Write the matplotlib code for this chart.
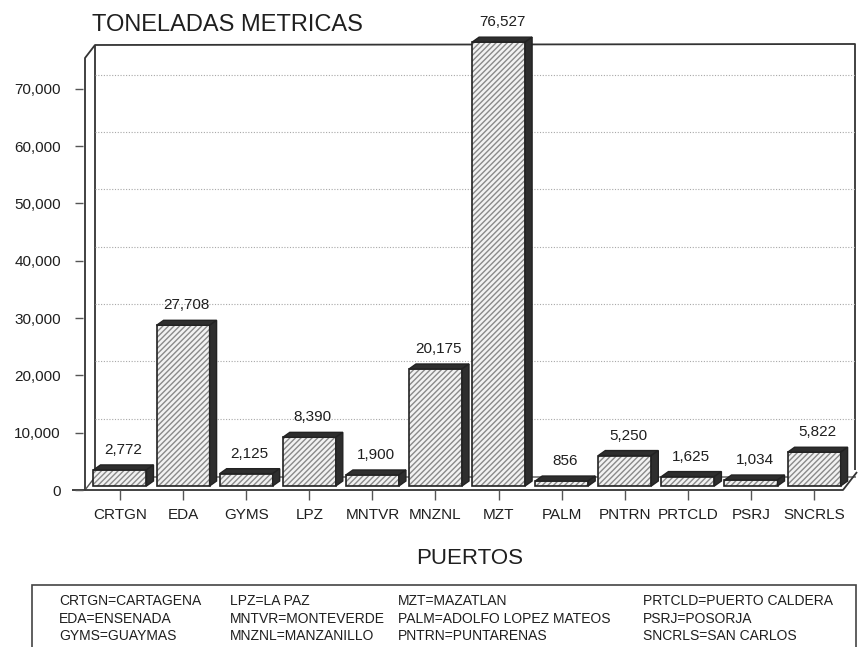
import matplotlib
matplotlib.use("Agg")
import matplotlib.pyplot as plt
from matplotlib.patches import Polygon, Rectangle
from matplotlib.lines import Line2D
from matplotlib.transforms import blended_transform_factory, ScaledTranslation

plt.rcParams['font.family'] = ['Liberation Sans', 'DejaVu Sans']

# ---------------- data ----------------
categories = ["CRTGN", "EDA", "GYMS", "LPZ", "MNTVR", "MNZNL", "MZT",
              "PALM", "PNTRN", "PRTCLD", "PSRJ", "SNCRLS"]
values = [2772, 27708, 2125, 8390, 1900, 20175, 76527,
          856, 5250, 1625, 1034, 5822]
yticks = [0, 10000, 20000, 30000, 40000, 50000, 60000, 70000]
title = "TONELADAS METRICAS"
xlabel = "PUERTOS"
legend_cols = [
    ["CRTGN=CARTAGENA", "EDA=ENSENADA", "GYMS=GUAYMAS"],
    ["LPZ=LA PAZ", "MNTVR=MONTEVERDE", "MNZNL=MANZANILLO"],
    ["MZT=MAZATLAN", "PALM=ADOLFO LOPEZ MATEOS", "PNTRN=PUNTARENAS"],
    ["PRTCLD=PUERTO CALDERA", "PSRJ=POSORJA", "SNCRLS=SAN CARLOS"],
]

# ---------------- style ----------------
W, H = 858, 647
INK = '#1f1f1f'
DARK = '#2e2e2e'

def fx(px):
    return px / W

def fy(py):
    return 1 - py / H

fig = plt.figure(figsize=(W / 100, H / 100), dpi=100)
fig.patch.set_facecolor('white')

rect = [fx(83), fy(490), (856 - 83) / W, (490 - 30) / H]

# back-wall axis (ticks + grid)
ax2 = fig.add_axes(rect)
ax2.set_xlim(-0.586, 11.664)
ax2.set_ylim(0, 80279)
for s in ax2.spines.values():
    s.set_visible(False)
ax2.set_xticks([])
ax2.set_yticks(yticks)
ax2.set_yticklabels([f"{v:,}" for v in yticks], fontsize=11, color=INK)
ax2.tick_params(axis='y', direction='out', length=6, width=1, color='#555', pad=10)
ax2.patch.set_visible(False)

grid_tr = blended_transform_factory(ax2.transAxes, ax2.transData) + \
    ScaledTranslation(0, 14 / 100, fig.dpi_scale_trans)
for v in yticks[1:]:
    ax2.add_line(Line2D([0.0155, 0.9987], [v, v], transform=grid_tr,
                        color='#a8a8a8', lw=0.8, ls=(0, (1, 1.5)), zorder=0))

# bar axis
ax = fig.add_axes(rect)
ax.set_xlim(-0.586, 11.664)
ax.set_ylim(-690, 78621)
ax.patch.set_visible(False)
for s in ax.spines.values():
    s.set_visible(False)
ax.set_yticks([])
xs = list(range(len(categories)))
ax.set_xticks(xs)
ax.set_xticklabels(categories, fontsize=11, color=INK)
ax.tick_params(axis='x', direction='out', length=7, width=1, color='#555', pad=6)

# frame / walls (decoration, in figure pixels, behind the bars)
def fline(xp, yp, lw=1.3, color='#333'):
    fig.add_artist(Line2D([fx(x) for x in xp], [fy(y) for y in yp],
                          transform=fig.transFigure, color=color, lw=lw,
                          solid_capstyle='butt', zorder=-1))

fline([85, 85, 95, 855, 855], [490, 58, 45, 44, 470])  # outer wall, top, right
fline([95, 95], [45, 477])                              # inner wall edge
fline([85, 95, 856], [490, 477, 477], lw=1.0, color='#555')  # floor back edge
fline([72, 843, 857], [490, 490, 472], lw=1.3)          # floor front edge

# bars
w = 0.84
DX = 0.111
DY = 860
for x, v in zip(xs, values):
    l, r = x - w / 2, x + w / 2
    ax.bar(x, v, width=w, color='#f2f2f2', hatch='//////', edgecolor='#8a8a8a',
           linewidth=0, zorder=3)
    ax.bar(x, v, width=w, fill=False, edgecolor='#222', linewidth=1.2, zorder=4)
    ax.add_patch(Polygon([(l, v), (r, v), (r + DX, v + DY), (l + DX, v + DY)],
                         closed=True, facecolor=DARK, edgecolor='#222', lw=1, zorder=4))
    ax.add_patch(Polygon([(r, 0), (r, v), (r + DX, v + DY), (r + DX, DY)],
                         closed=True, facecolor=DARK, edgecolor='#222', lw=1, zorder=4))
    ax.annotate(f"{v:,}", (x + DX / 2, v + DY), xytext=(0, 8),
                textcoords='offset pixels', ha='center', va='bottom',
                fontsize=11, color=INK, annotation_clip=False)

# titles
fig.text(fx(227), fy(25), title, fontsize=17, color=INK, ha='center', va='center')
fig.text(fx(470), fy(558), xlabel, fontsize=16, color=INK, ha='center', va='center')

# legend box
fig.add_artist(Rectangle((fx(32), fy(662)), fx(856) - fx(32), fy(585) - fy(662),
                         transform=fig.transFigure, fill=False, edgecolor='#444', lw=1.2))
col_x = [59, 230, 398, 643]
row_y = [601, 619, 636]
for cx, col in zip(col_x, legend_cols):
    for ry, txt in zip(row_y, col):
        fig.text(fx(cx), fy(ry), txt, fontsize=10, color=INK, ha='left', va='center')

fig.savefig("out.png", dpi=100, facecolor='white')
